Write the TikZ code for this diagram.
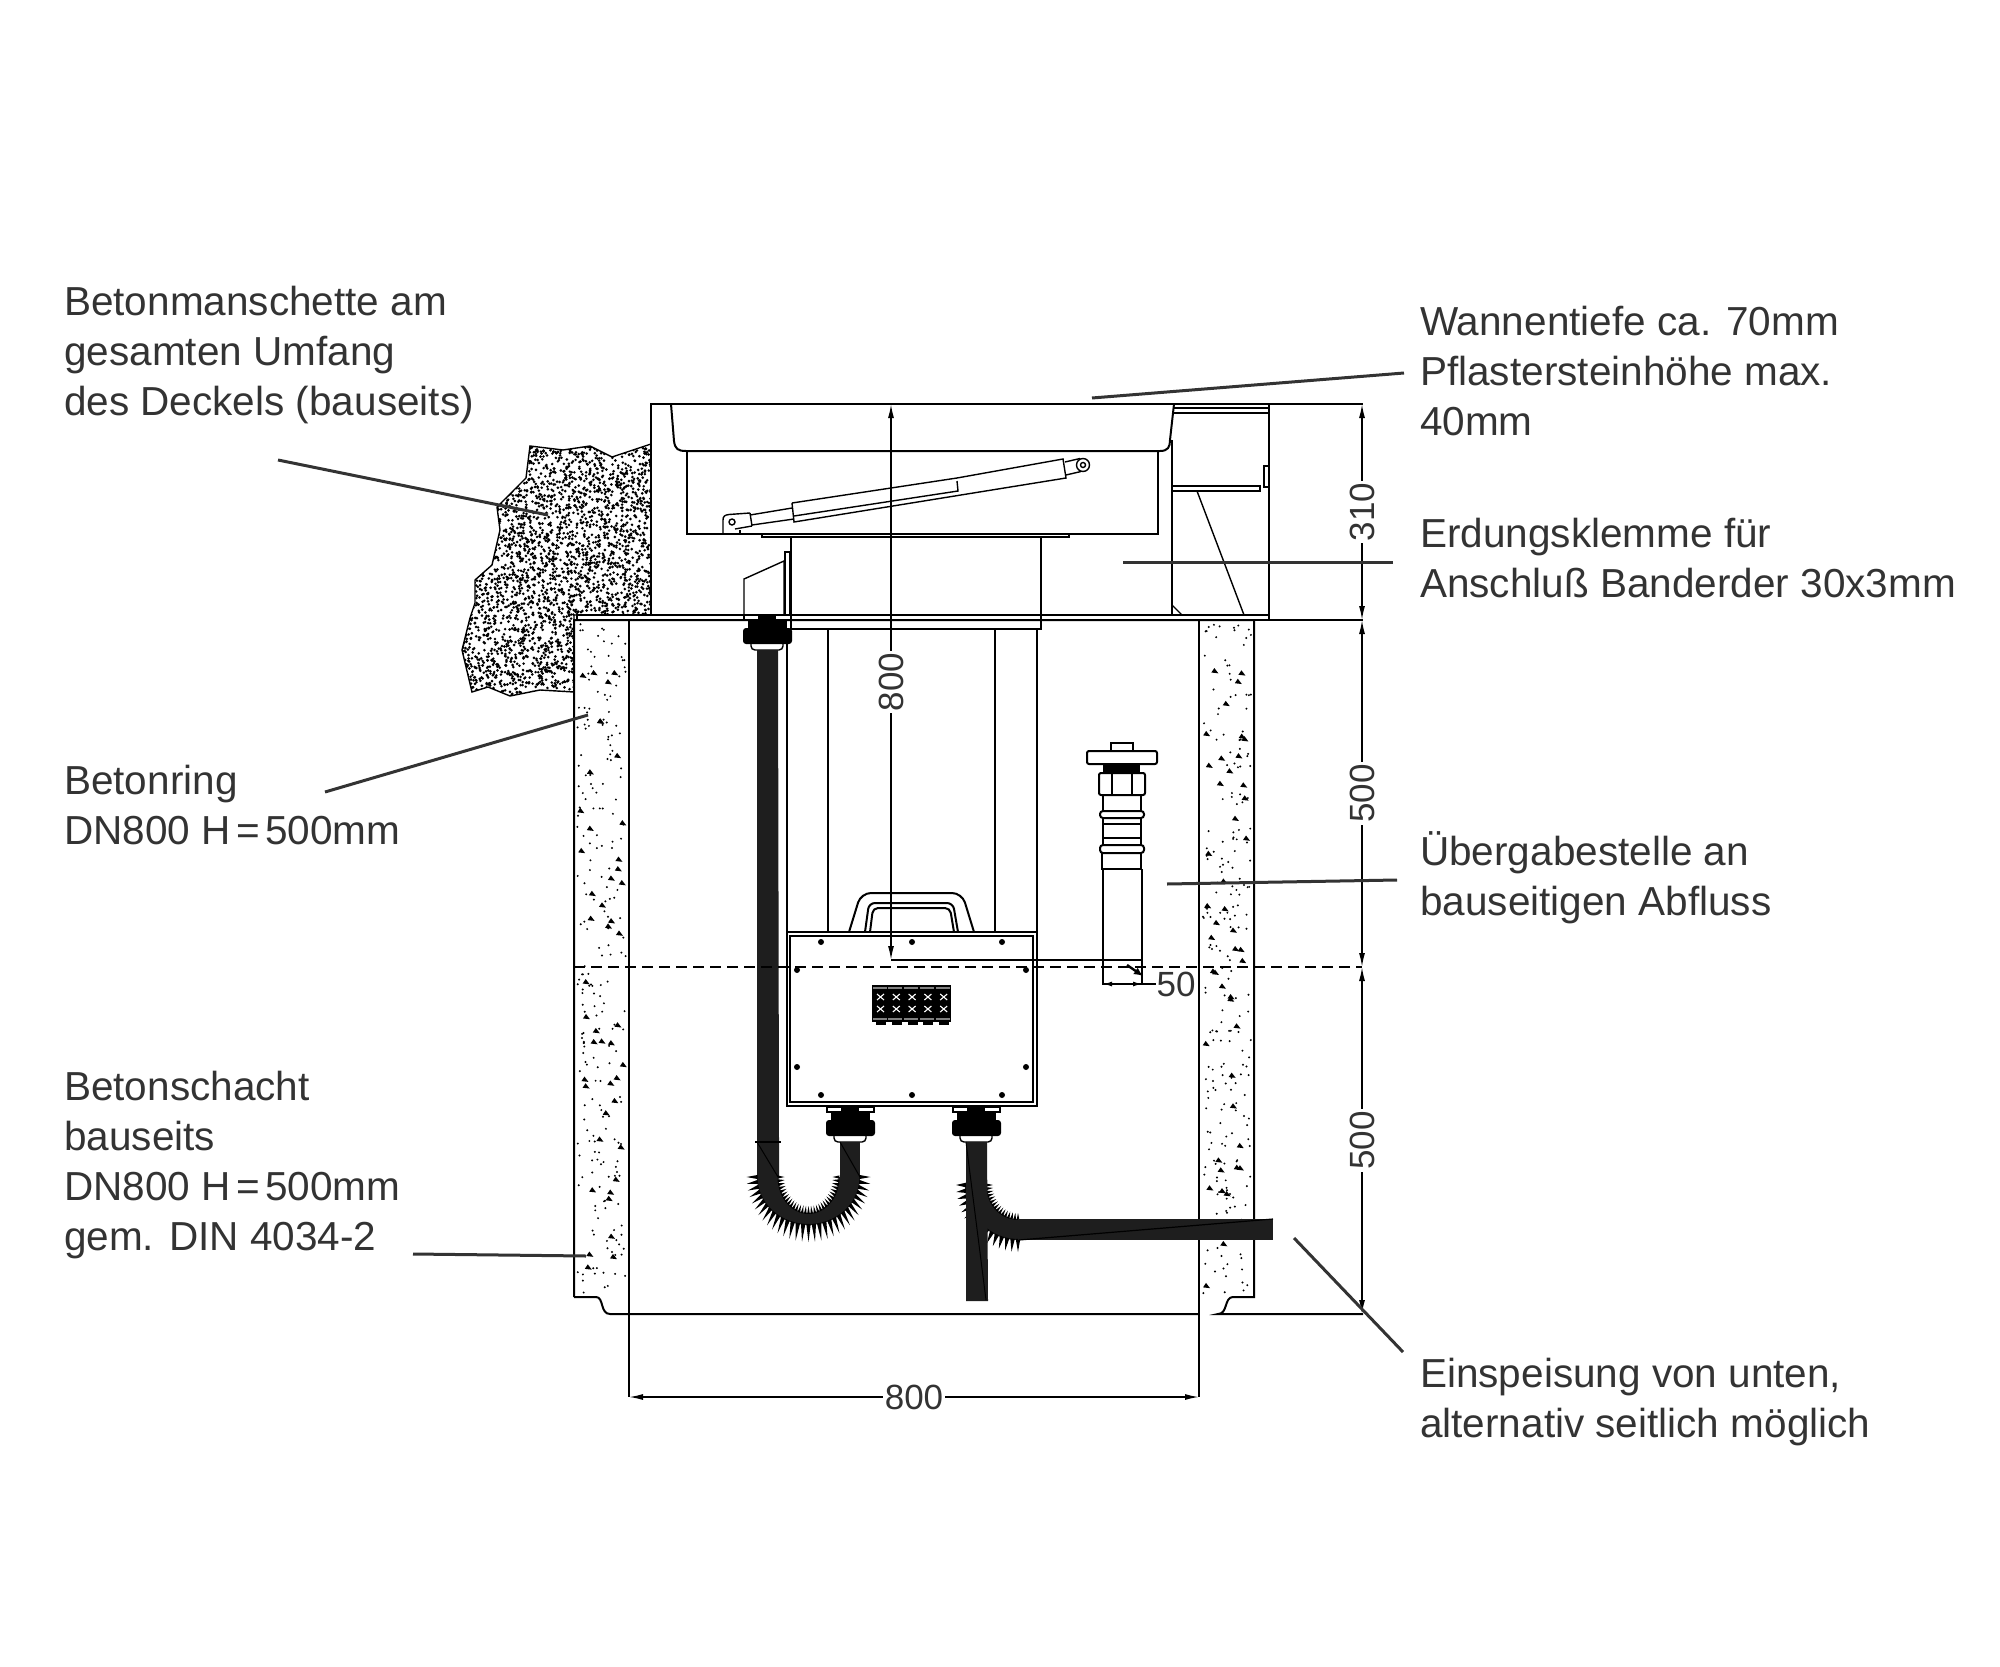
\documentclass[tikz,border=0pt]{standalone}
\usepackage{fontspec}
\setmainfont{Liberation Sans}
\usetikzlibrary{arrows.meta}
\definecolor{inkgray}{HTML}{333333}
\definecolor{cablegray}{HTML}{1E1E1E}
\tikzset{
  callout/.style={font=\fontsize{40.5}{50}\selectfont, align=left, inner sep=0pt, anchor=base west, text=inkgray},
  dimtext/.style={font=\fontsize{35}{35}\selectfont, fill=white, inner sep=2pt, text=inkgray},
  dimline/.style={line width=1.5pt, {Latex[length=14pt,width=6pt]}-{Latex[length=14pt,width=6pt]}},
  leader/.style={line width=3pt, color=inkgray},
  body/.style={line width=2pt},
  thin body/.style={line width=1.4pt},
  cable/.style={fill=cablegray, draw=none}
}
\newcommand{\patchoutline}{(530,446) -- (563,450) -- (590,446) -- (612,457) -- (651,444) -- (651,615) -- (574,615)
  -- (574,692) -- (540,690) -- (510,696) -- (488,687) -- (472,692) -- (462,650) -- (470,618) -- (475,603)
  -- (475,580) -- (492,565) -- (500,530) -- (497,507) -- (526,478) -- cycle}
\newcommand{\wideeq}{\kern5.5pt=\kern5.5pt}
\begin{document}
\begin{tikzpicture}[x=1pt, y=-1pt]
          \useasboundingbox (0,0) rectangle (2000,1667);
          \pgfmathsetseed{41}

          \begin{scope}
            \clip \patchoutline;
            \foreach \i in {1,...,3600}
              \fill ({460+rnd*192},{444+rnd*254}) circle[radius=1.45pt];
          \end{scope}
          \draw[thin body] \patchoutline;

          \foreach \wx in {574,1199} {
            \foreach \i in {1,...,220}
              \fill ({\wx+3+rnd*49},{624+rnd*670}) circle[radius=1.1pt];
            \foreach \i in {1,...,46}
              \fill ({\wx+6+rnd*43},{628+rnd*660}) -- ++(-3,4.5) -- ++(7,0.8) -- cycle;
          }

          \draw[body] (574,1297) -- (574,620) -- (1254,620) -- (1254,1297) -- (1233,1297) .. controls (1224,1297) and (1228,1314) .. (1218,1314) -- (1363,1314);
          \draw[body] (574,1297) -- (596,1297) .. controls (604,1297) and (600,1314) .. (610,1314) -- (1199,1314);
          \draw[thin body] (629,620) -- (629,1397);
          \draw[thin body] (1199,620) -- (1199,1397);

          \draw[body] (651,615) -- (651,404) -- (1363,404);
          \draw[body] (577,620) -- (577,615) -- (1268,615);
          \draw[body] (1254,620) -- (1363,620);
          \draw[body] (671,404) -- (674,441) .. controls (675,449) and (678,451) .. (686,451) -- (1160,451) .. controls (1168,451) and (1170,447) .. (1170,440) -- (1174,404);
          \draw[body] (687,451) -- (687,534) -- (1158,534) -- (1158,451);
          \draw[thin body] (762,534) -- (762,537) -- (1069,537) -- (1069,534);
          \draw[body] (791,537) -- (791,629) -- (1041,629) -- (1041,537);

          \draw[body] (1172,440) -- (1172,615);
          \draw[body] (1269,404) -- (1269,620);
          \draw[thin body] (1174,408) -- (1269,408);
          \draw[thin body] (1174,413) -- (1269,413);
          \draw[thin body] (1172,486) -- (1260,486) -- (1260,491) -- (1172,491);
          \draw[thin body] (1264,466) rectangle (1269,487);
          \draw[thin body] (1197,491) -- (1244,615);
          \draw[thin body] (1172,605) -- (1182,615);

          \draw[thin body] (723,534) -- (723,520) .. controls (723,516) and (725,515) .. (729,514.5) -- (750,513);
          \draw[thin body] (735,529) -- (752,526);
          \draw[thin body] (740,530) -- (740,534);
          \draw[thin body] (732,522) circle[radius=3pt];
          \draw[thin body] (750,513) -- (752,526);
          \draw[thin body] (750,515) -- (792,508);
          \draw[thin body] (752,525) -- (794,519);
          \draw[thin body] (792,503) -- (794,522) -- (1066,478) -- (1063,459) -- (957,478) -- (792,503);
          \draw[thin body] (957,481) -- (958,491) -- (794,516);
          \draw[thin body] (1065,462) -- (1080,458.5);
          \draw[thin body] (1066,475) -- (1081,471.5);
          \draw[thin body] (1083,465) circle[radius=6.5pt];
          \draw[thin body] (1083,465) circle[radius=2.5pt];

          \draw[thin body] (744,615) -- (744,579) -- (784,561) -- (784,615);
          \draw[thin body] (785,552) rectangle (790,615);

          \draw[thin body] (787,629) -- (787,932);
          \draw[thin body] (828,629) -- (828,932);
          \draw[thin body] (995,629) -- (995,932);
          \draw[thin body] (1037,629) -- (1037,932);
          \draw[body] (787,932) rectangle (1037,1106);
          \draw[body] (790,936) rectangle (1033,1102);
          \foreach \px/\py in {821/942,912/942,1002/942,797/970,1026/970,797/1067,1026/1067,821/1095,912/1095,1002/1095}
            \fill (\px,\py) circle[radius=3pt];

          \draw[body, rounded corners=10pt] (849,932) -- (861,893) -- (962,893) -- (974,932);
          \draw[body, rounded corners=6pt] (865,932) -- (869,903) -- (953,903) -- (958,932);
          \draw[body, rounded corners=5pt] (870,932) -- (873,908) -- (950,908) -- (954,932);

          \fill (872,985) rectangle (951,1022);
          \foreach \m in {0,...,4} {
            \fill ({876+15.8*\m},1022) rectangle ({886+15.8*\m},1025);
            \fill[gray] ({872.5+15.8*\m},987) rectangle ({886.5+15.8*\m},989);
            \fill[gray] ({872.5+15.8*\m},1018) rectangle ({886.5+15.8*\m},1020);
            \foreach \ty in {997,1009} {
              \draw[white, line width=1.1pt] ({877+15.8*\m},{\ty-3}) -- ({884+15.8*\m},{\ty+3});
              \draw[white, line width=1.1pt] ({877+15.8*\m},{\ty+3}) -- ({884+15.8*\m},{\ty-3});
            }
          }

          \foreach \gx/\gy in {850/1107,976/1107,767/615} {
            \draw[thin body, fill=white] ({\gx-23},\gy) rectangle ({\gx+24},{\gy+5});
            \fill ({\gx-9},\gy) rectangle ({\gx+9},{\gy+5});
            \fill ({\gx-19},{\gy+5}) rectangle ({\gx+20},{\gy+13});
            \draw[thin body, fill=white, rounded corners=4pt] ({\gx-16},{\gy+24}) rectangle ({\gx+16},{\gy+35});
            \fill[rounded corners=3pt] ({\gx-24},{\gy+13}) rectangle ({\gx+25},{\gy+29});
          }

          \fill[cable] (757,650) -- (778,650) -- (779,1142) -- (779,1177) -- (757,1177) -- cycle;
          \draw[line width=1.5pt] (755,1142) -- (781,1142);
          \draw[line width=1pt] (757,1142) -- (778,1177);
          \fill[cable] (840,1142) -- (860,1142) -- (860,1177) -- (840,1177) -- cycle;
          \draw[line width=1pt] (840,1142) -- (860,1177);

          \fill[cablegray] plot[domain=0:180, samples=40] ({808.5+51.5*cos(\x)},{1177+48*sin(\x)})
            -- plot[domain=180:0, samples=40] ({808.5+30*cos(\x)},{1177+36*sin(\x)}) -- cycle;
          \foreach \a in {0,6,...,180} {
            \fill ({808.5+51*cos(\a-2.5)},{1177+47*sin(\a-2.5)}) -- ({808.5+62*cos(\a)},{1177+65*sin(\a)}) -- ({808.5+51*cos(\a+2.5)},{1177+47*sin(\a+2.5)}) -- cycle;
            \fill ({808.5+31*cos(\a-2.5)},{1177+37*sin(\a-2.5)}) -- ({808.5+24*cos(\a)},{1177+29*sin(\a)}) -- ({808.5+31*cos(\a+2.5)},{1177+37*sin(\a+2.5)}) -- cycle;
          }

          \fill[cablegray] plot[domain=90:180, samples=24] ({1018+53*cos(\x)},{1185+55*sin(\x)})
            -- plot[domain=180:90, samples=24] ({1018+31*cos(\x)},{1185+34*sin(\x)}) -- cycle;
          \foreach \a in {90,96,...,180} {
            \fill ({1018+52*cos(\a-2.5)},{1185+54*sin(\a-2.5)}) -- ({1018+62*cos(\a)},{1185+67*sin(\a)}) -- ({1018+52*cos(\a+2.5)},{1185+54*sin(\a+2.5)}) -- cycle;
            \fill ({1018+32*cos(\a-2.5)},{1185+35*sin(\a-2.5)}) -- ({1018+25*cos(\a)},{1185+28*sin(\a)}) -- ({1018+32*cos(\a+2.5)},{1185+35*sin(\a+2.5)}) -- cycle;
          }
          \fill[cable] (966,1142) -- (987,1142) -- (988,1301) -- (966,1301) -- cycle;
          \draw[line width=1pt] (966,1142) -- (986,1300);
          \fill[cable] (1018,1219) -- (1273,1219) -- (1273,1240) -- (1018,1240) -- cycle;
          \draw[line width=1.2pt] (1019,1240) -- (1273,1219);

          \draw[thin body, fill=white] (1111,743) rectangle (1133,751);
          \draw[body, fill=white, rounded corners=2pt] (1087,751) rectangle (1157,764);
          \fill (1103,764) rectangle (1140,772);
          \draw[body, rounded corners=2pt] (1099,773) rectangle (1145,795);
          \draw[thin body] (1112,773) -- (1112,795);
          \draw[thin body] (1132,773) -- (1132,795);
          \draw[body] (1103,795) -- (1103,811);
          \draw[body] (1141,795) -- (1141,811);
          \draw[body, rounded corners=3pt] (1100,811) rectangle (1144,818);
          \draw[body] (1103,818) -- (1103,845);
          \draw[body] (1141,818) -- (1141,845);
          \draw[body] (1103,824) -- (1141,824);
          \draw[body] (1103,838) -- (1141,838);
          \draw[body, rounded corners=3pt] (1100,845) rectangle (1144,853);
          \draw[body] (1102,853) -- (1102,869) -- (1141,869) -- (1141,853);
          \draw[body] (1103,869) -- (1103,984) -- (1142,984) -- (1142,869);

          \draw[line width=1.6pt, dash pattern=on 11pt off 6pt] (574,967) -- (1362,967);
          \draw[thin body] (891,960) -- (1142,960);

          \coordinate (topdim) at (1362,404);
          \coordinate (midone) at (1362,620);
          \coordinate (midtwo) at (1362,967);
          \coordinate (botdim) at (1362,1314);
          \coordinate (wallleft) at (629,1397);
          \coordinate (wallright) at (1199,1397);
          \coordinate (depthtop) at (891,404);
          \coordinate (depthbot) at (891,960);
          \coordinate (tipstart) at (1127,965);
          \coordinate (tipend) at (1143,976);
          \coordinate (pipeedge) at (1142,984);
          \coordinate (pipeleft) at (1103,984);

          \draw[dimline] (topdim) -- node[dimtext, rotate=90] (n310) {310} (midone);
          \draw[dimline] (midone) -- node[dimtext, rotate=90] (n500a) {500} (midtwo);
          \draw[dimline] (midtwo) -- node[dimtext, rotate=90] (n500b) {500} (botdim);
          \draw[dimline] (wallleft) -- node[dimtext] (n800w) {800} (wallright);
          \draw[dimline] (depthtop) -- node[dimtext, rotate=90] (n800h) {800} (depthbot);
          \draw[line width=2.4pt, -{Latex[length=9pt,width=8pt]}] (tipstart) -- (tipend);
          \draw[line width=1.5pt, {Latex[length=9pt,width=5pt]}-{Latex[length=9pt,width=5pt]}] (pipeleft) -- (pipeedge);
          \node[font=\fontsize{35}{35}\selectfont, text=inkgray, inner sep=0pt] (n50) at (1176,984) {50};
          \draw[line width=1.5pt] (pipeedge) -- (n50);

          \node[callout] (manschette) at (64,415.5) {Betonmanschette am\\gesamten Umfang\\des Deckels (bauseits)};
          \node[callout] (wanne) at (1420,435.5) {Wannentiefe ca. 70mm\\Pflastersteinhöhe max.\\40mm};
          \node[callout] (erdung) at (1420,597) {Erdungsklemme für\\Anschluß Banderder 30x3mm};
          \node[callout] (ring) at (64,844) {Betonring\\DN800 H\wideeq 500mm};
          \node[callout] (abfluss) at (1420,915) {Übergabestelle an\\bauseitigen Abfluss};
          \node[callout] (schacht) at (64,1250.5) {Betonschacht\\bauseits\\DN800 H\wideeq 500mm\\gem. DIN 4034-2};
          \node[callout] (speisung) at (1420,1437.5) {Einspeisung von unten,\\alternativ seitlich möglich};

          \coordinate (la) at (278,460);
          \coordinate (lb) at (548,515);
          \coordinate (lc) at (1404,373);
          \coordinate (ld) at (1092,398);
          \coordinate (le) at (1393,562);
          \coordinate (lf) at (1123,562);
          \coordinate (lg) at (325,792);
          \coordinate (lh) at (588,715);
          \coordinate (li) at (1397,880);
          \coordinate (lj) at (1167,884);
          \coordinate (lk) at (413,1254);
          \coordinate (ll) at (586,1256);
          \coordinate (lm) at (1403,1352);
          \coordinate (ln) at (1294,1238);
          \draw[leader] (la) -- (lb);
          \draw[leader] (lc) -- (ld);
          \draw[leader] (le) -- (lf);
          \draw[leader] (lg) -- (lh);
          \draw[leader] (li) -- (lj);
          \draw[leader] (lk) -- (ll);
          \draw[leader] (lm) -- (ln);
    \end{tikzpicture}
\end{document}
